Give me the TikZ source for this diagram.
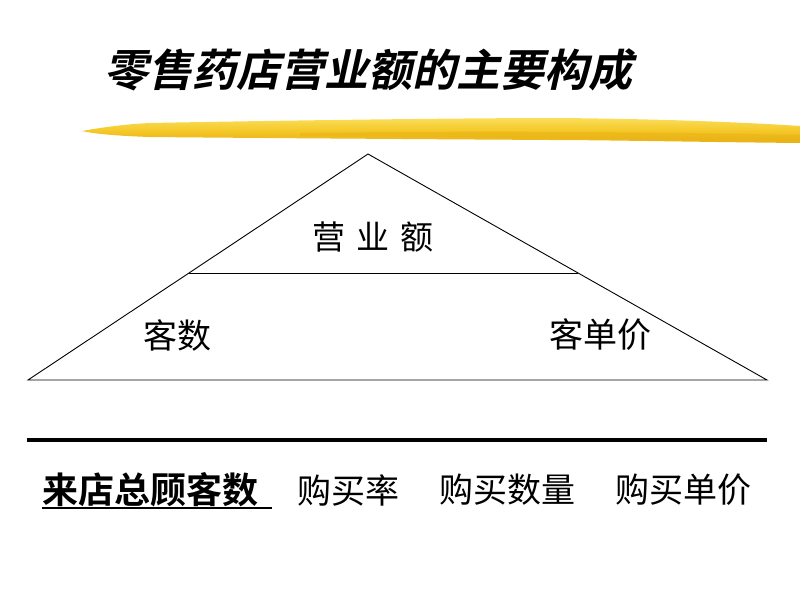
\documentclass[tikz,border=0pt]{standalone}
\usepackage{fontspec}
\newfontfamily\cjk{Noto Sans CJK SC}
\newfontfamily\cjktitle[FakeSlant=0.22]{Noto Sans CJK SC Bold}
\newfontfamily\cjkbold{Noto Sans CJK SC Bold}
\definecolor{brushTop}{RGB}{250,222,90}
\definecolor{brushMid}{RGB}{244,200,40}
\definecolor{brushBot}{RGB}{232,176,20}
\tikzset{
  lbl/.style={inner sep=0pt, font=\cjk\fontsize{34}{34}\selectfont},
  ttl/.style={inner sep=0pt, font=\cjktitle\fontsize{44}{44}\selectfont},
  thin/.style={draw=black, line width=0.9pt},
}
\begin{document}
\begin{tikzpicture}[x=1pt,y=-1pt]
\useasboundingbox (0,0) rectangle (800,600);
% title
\node[ttl, anchor=west] (title) at (104,70) {零售药店营业额的主要构成};
% brush stroke
\shade[top color=brushTop, bottom color=brushBot, middle color=brushMid]
  (82,131) .. controls (110,126) and (130,124) .. (150,123)
  .. controls (250,121) and (450,118) .. (560,118)
  .. controls (660,119) and (740,122) .. (800,126)
  -- (800,143)
  .. controls (700,142) and (600,140) .. (550,140)
  .. controls (400,139) and (250,138) .. (150,137)
  .. controls (120,136) and (95,134) .. (82,131) -- cycle;
\fill[brushBot, opacity=0.45]
  (300,133) .. controls (450,131) and (600,131) .. (800,135)
  -- (800,141) .. controls (600,139) and (450,137) .. (300,136) -- cycle;
% triangle
\coordinate (apex) at (368,154);
\coordinate (bl) at (28,380);
\coordinate (br) at (767,380);
\coordinate (ml) at (189,273);
\coordinate (mr) at (578,273);
\draw[thin] (bl) -- (apex) -- (br) -- cycle;
\draw[thin] (ml) -- (mr);
\node[lbl, font=\cjk\fontsize{33}{33}\selectfont] (yye) at (373,237) {营\hspace{11pt}业\hspace{11pt}额};
\node[lbl] (ks) at (177.5,335) {客数};
\node[lbl] (kdj) at (600,335) {客单价};
% thick rule
\coordinate (rl) at (27,440);
\coordinate (rr) at (767,440);
\draw[line width=4.5pt] (rl) -- (rr);
% bottom row
\node[lbl, font=\cjkbold\fontsize{36}{36}\selectfont, anchor=west] (ldzgks) at (42,490) {来店总顾客数};
\coordinate (ul) at (42,508);
\coordinate (ur) at (272,508);
\draw[line width=2pt] (ul) -- (ur);
\node[lbl] (gml) at (348,490) {购买率};
\node[lbl] (gmsl) at (507,490) {购买数量};
\node[lbl] (gmdj) at (683,490) {购买单价};
\end{tikzpicture}
\end{document}
